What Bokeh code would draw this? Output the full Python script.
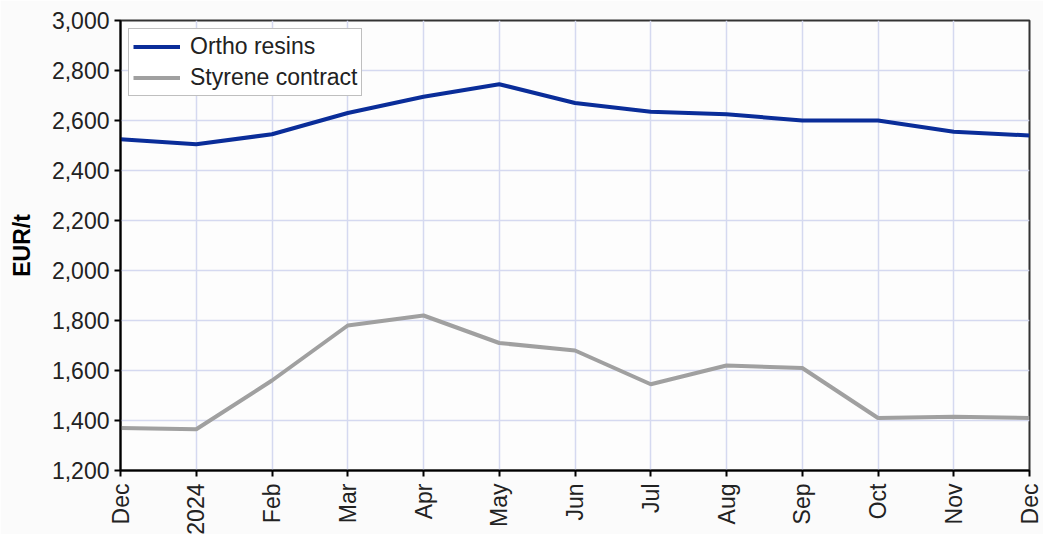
import math
from bokeh.plotting import figure
from bokeh.models import FixedTicker, Range1d, Legend, LegendItem
from bokeh.embed import file_html
from bokeh.resources import INLINE

months = ["Dec", "2024", "Feb", "Mar", "Apr", "May", "Jun", "Jul", "Aug", "Sep", "Oct", "Nov", "Dec"]
ortho_resins = [2525, 2505, 2545, 2630, 2695, 2745, 2670, 2635, 2625, 2600, 2600, 2555, 2540]
styrene_contract = [1370, 1365, 1560, 1780, 1820, 1710, 1680, 1545, 1620, 1610, 1410, 1415, 1410]
y_ticks = [1200, 1400, 1600, 1800, 2000, 2200, 2400, 2600, 2800, 3000]

FONT = "Liberation Sans"
xs = list(range(len(months)))

p = figure(frame_width=909, frame_height=450, output_backend="svg", toolbar_location=None,
           x_range=Range1d(0, len(months) - 1), y_range=Range1d(1200, 3000),
           min_border_left=120, min_border_right=14, min_border_top=20, min_border_bottom=60)
p.background_fill_color = "#fdfdfd"
p.border_fill_color = "#fbfbfb"
p.outline_line_color = "#333333"
p.outline_line_width = 2

r1 = p.line(xs, ortho_resins, line_color="#0a2d99", line_width=4)
r2 = p.line(xs, styrene_contract, line_color="#a0a0a0", line_width=4)

p.xaxis.ticker = FixedTicker(ticks=xs)
p.xaxis.major_label_overrides = {i: m for i, m in enumerate(months)}
p.xaxis.major_label_orientation = math.pi / 2
p.yaxis.ticker = FixedTicker(ticks=y_ticks)
p.yaxis.major_label_overrides = {v: f"{v:,}" for v in y_ticks}
p.yaxis.axis_label = "EUR/t"

for ax in (p.xaxis[0], p.yaxis[0]):
    ax.axis_line_color = "black"
    ax.axis_line_width = 2
    ax.major_tick_line_color = "black"
    ax.major_tick_line_width = 2
    ax.major_tick_out = 6
    ax.major_tick_in = 0
    ax.minor_tick_line_color = None
    ax.major_label_text_font = FONT
    ax.major_label_text_font_size = "23px"
    ax.major_label_text_color = "#222222"
p.xaxis.major_label_standoff = 7
p.yaxis.major_label_standoff = 5
p.yaxis.axis_label_text_font = FONT
p.yaxis.axis_label_text_font_style = "bold"
p.yaxis.axis_label_text_font_size = "23px"
p.yaxis.axis_label_text_color = "black"
p.yaxis.axis_label_standoff = 14

p.xgrid.grid_line_color = "#d5d9f0"
p.ygrid.grid_line_color = "#d5d9f0"
p.xgrid.grid_line_width = 1.5
p.ygrid.grid_line_width = 1.5

legend = Legend(items=[LegendItem(label="Ortho resins", renderers=[r1]),
                       LegendItem(label="Styrene contract", renderers=[r2])],
                location="top_left")
legend.label_text_font = FONT
legend.label_text_font_size = "23px"
legend.label_text_color = "#222222"
legend.border_line_color = "#808080"
legend.border_line_width = 1.5
legend.background_fill_color = "white"
legend.background_fill_alpha = 1
legend.glyph_width = 47
legend.glyph_height = 25
legend.label_height = 25
legend.spacing = 4
legend.padding = 4
legend.margin = 8
legend.label_standoff = 10
p.add_layout(legend)

open("out.html", "w").write(file_html(p, INLINE))
